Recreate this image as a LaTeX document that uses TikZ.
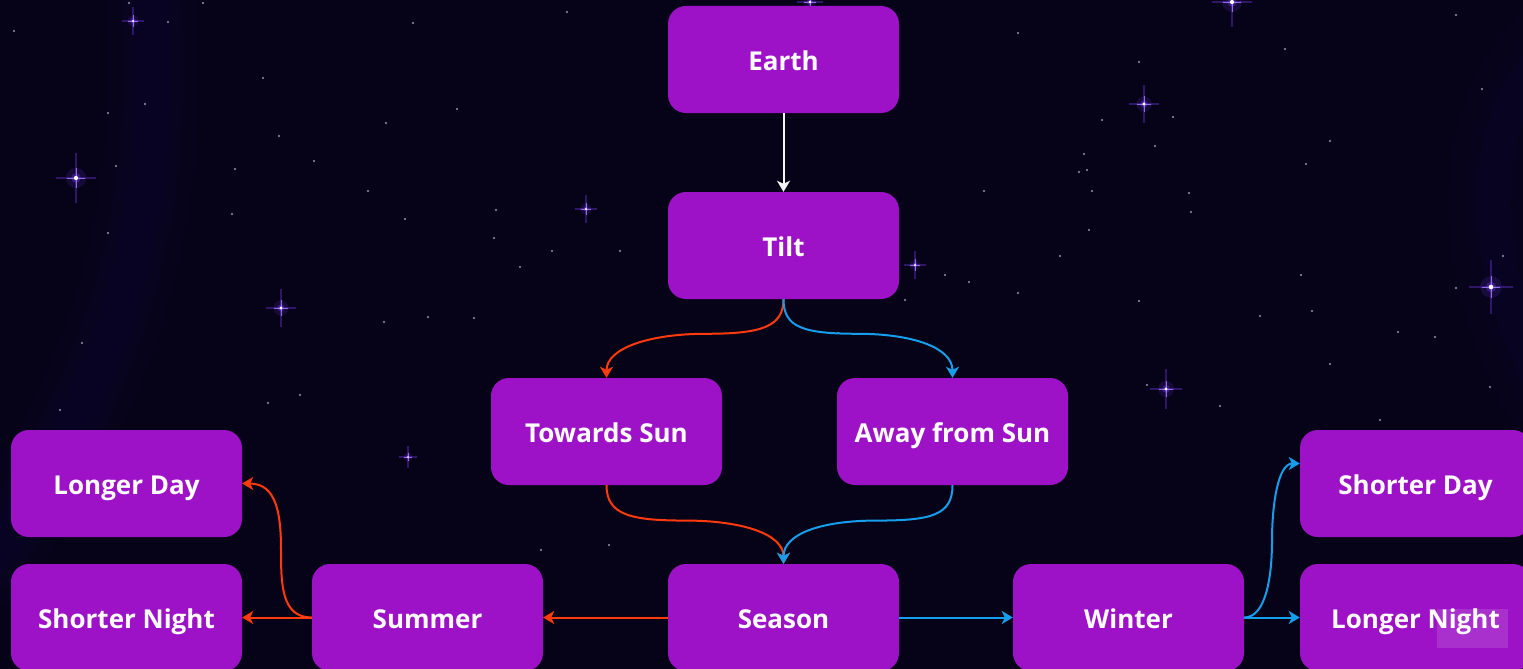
\documentclass[tikz,border=0pt]{standalone}
\usepackage{fontspec}
\setmainfont{Open Sans}[BoldFont={Open Sans Bold}]
\usetikzlibrary{arrows.meta,calc}

\definecolor{spacebg}{RGB}{6,3,24}
\definecolor{haze}{RGB}{40,22,120}
\definecolor{boxfill}{RGB}{157,18,198}
\definecolor{warm}{RGB}{255,58,12}
\definecolor{cool}{RGB}{22,158,236}
\definecolor{starpurple}{RGB}{125,60,255}
\definecolor{dust}{RGB}{150,150,172}

\tikzset{
  concept/.style={rectangle, rounded corners=18pt, fill=boxfill,
    minimum width=231pt, minimum height=107pt, inner sep=0pt,
    text=white, font=\fontsize{26}{31}\selectfont\bfseries,
    text height=21.5pt, text depth=0pt},
  link/.style={line width=2pt, -{Stealth[length=11pt,width=13pt,inset=3pt]}},
  whitelink/.style={link, draw=white!92!gray},
  warmlink/.style={link, draw=warm},
  coollink/.style={link, draw=cool},
  glowstar/.pic={
    \fill[starpurple, opacity=0.14] (0,0) circle (8);
    \fill[starpurple, opacity=0.35] (0,0) circle (3.8);
    \draw[starpurple, line width=1.2pt, opacity=0.35] (-16,0) -- (16,0);
    \draw[starpurple, line width=1.2pt, opacity=0.35] (0,-20) -- (0,20);
    \draw[starpurple!60!white, line width=0.9pt, opacity=0.75] (-7,0) -- (7,0);
    \draw[starpurple!60!white, line width=0.9pt, opacity=0.75] (0,-8) -- (0,8);
    \fill[white] (0,0) circle (1.7);
  }
}

\begin{document}
\begin{tikzpicture}[x=1pt, y=-1pt]
  % canvas
  \path[use as bounding box] (0,0) rectangle (1523,669);
  \clip (0,0) rectangle (1523,669);
  \fill[spacebg] (0,0) rectangle (1523,669);

  % soft nebula bands at the edges
  \foreach \w/\o in {90/0.04, 60/0.05, 34/0.05}{
    \draw[haze, line width=\w pt, opacity=\o, line cap=round]
      (150,-20) .. controls (165,200) and (130,360) .. (-10,560);
    \draw[haze, line width=\w pt, opacity=0.7*\o, line cap=round]
      (1560,40) .. controls (1470,120) and (1480,260) .. (1540,380);
  }

  % faint background stars
  \foreach \p in {(14,31),(129,3),(203,3),(168,22),(413,23),(263,78),(108,113),
      (145,104),(386,123),(457,109),(279,136),(116,166),(314,161),(235,169),
      (368,191),(232,214),(405,219),(496,210),(494,238),(108,233),(384,322),
      (428,317),(82,343),(300,395),(268,403),(567,12),(552,251),(620,251),
      (520,267),(984,191),(945,275),(969,282),(1018,33),(1139,62),(1285,49),
      (1456,15),(1482,89),(1102,120),(1173,117),(1155,146),(1084,154),
      (1087,170),(1079,172),(1092,191),(1189,193),(1191,212),(1089,230),
      (1330,141),(1306,164),(1060,256),(1018,293),(1139,301),(1260,316),
      (1301,275),(1312,311),(1398,332),(1435,337),(1503,256),(1456,288),
      (1330,364),(1490,387),(1147,385),(1220,406),(541,550),(609,545),
      (838,333),(474,318),(905,300),(1030,420),(1380,420),(60,410)}{
    \fill[dust] \p circle (1.1);
  }

  % bright stars with glow
  \foreach \p/\s in {(76,178)/1.25,(1232,2)/1.25,(1491,287)/1.35,
      (281,308)/0.95,(1144,104)/0.95,(1166,389)/1,(810,2)/0.8,
      (133,21)/0.7,(586,209)/0.7,(915,265)/0.7,(408,457)/0.55}{
    \pic[scale=\s] at \p {glowstar};
  }

  % concept boxes
  \node[concept] (earth)  at (783.5,59.5)  {Earth};
  \node[concept] (tilt)   at (783.5,245.5) {Tilt};
  \node[concept] (toward) at (606.5,431.5) {Towards Sun};
  \node[concept] (away)   at (952.5,431.5) {Away from Sun};
  \node[concept] (lday)   at (126.5,483.5) {Longer Day};
  \node[concept] (snight) at (126.5,617.5) {Shorter Night};
  \node[concept] (summer) at (427.5,617.5) {Summer};
  \node[concept] (season) at (783.5,617.5) {Season};
  \node[concept] (winter) at (1128.5,617.5) {Winter};
  \node[concept] (sday)   at (1415.5,483.5) {Shorter Day};
  \node[concept] (lnight) at (1415.5,617.5) {Longer Night};

  % watermark plate
  \fill[white, opacity=0.13] (1437,609) rectangle (1508,648);

  % connectors
  \draw[whitelink] (earth) -- (tilt);

  \coordinate (tw) at ($(tilt.south)!0.44!(toward.north)$);
  \coordinate (ta) at ($(tilt.south)!0.44!(away.north)$);
  \draw[warmlink] (tilt.south) .. controls +(0,28) and +(55,0) .. (tw)
                  .. controls +(-55,0) and +(0,-30) .. (toward.north);
  \draw[coollink] (tilt.south) .. controls +(0,28) and +(-55,0) .. (ta)
                  .. controls +(55,0) and +(0,-30) .. (away.north);

  \coordinate (ws) at ($(toward.south)!0.45!(season.north)$);
  \coordinate (as) at ($(away.south)!0.45!(season.north)$);
  \draw[warmlink] (toward.south) .. controls +(0,30) and +(-55,0) .. (ws)
                  .. controls +(55,0) and +(0,-30) .. (season.north);
  \draw[coollink] (away.south) .. controls +(0,30) and +(55,0) .. (as)
                  .. controls +(-55,0) and +(0,-30) .. (season.north);

  \draw[warmlink] (season.west) -- (summer.east);
  \draw[warmlink] (summer.west) -- (snight.east);
  \coordinate (sl) at ($(summer.west)!0.5!(lday.east)$);
  \draw[warmlink] (summer.west) .. controls +(-30,0) and +(0,35) .. ([xshift=4pt]sl)
                  .. controls +(0,-35) and +(35,0) .. (lday.east);

  \draw[coollink] (season.east) -- (winter.west);
  \draw[coollink] (winter.east) -- (lnight.west);
  \coordinate (dayin) at ([yshift=20pt]sday.west);
  \coordinate (wd) at ($(winter.east)!0.5!(dayin)$);
  \draw[coollink] (winter.east) .. controls +(22,0) and +(0,35) .. (wd)
                  .. controls +(0,-35) and +(-22,0) .. (dayin);
\end{tikzpicture}
\end{document}
